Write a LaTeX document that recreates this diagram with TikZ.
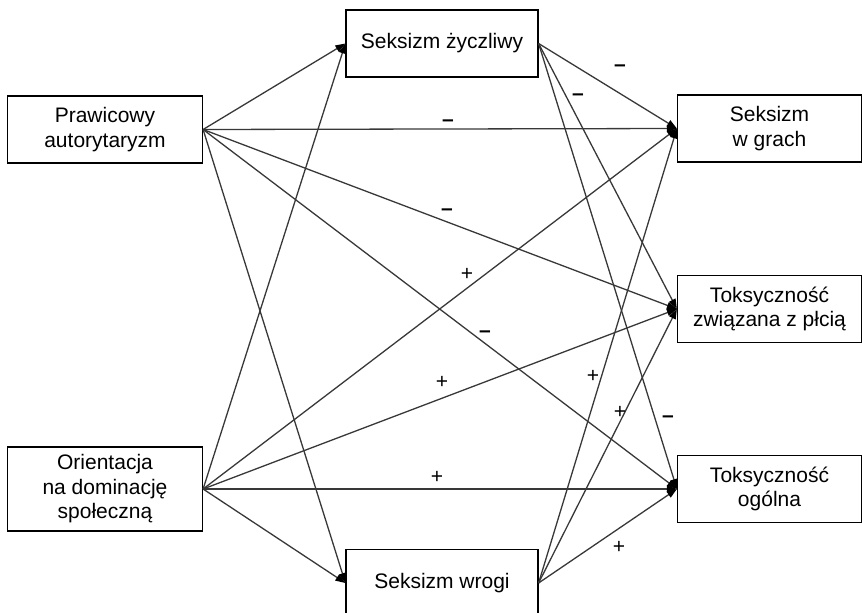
\documentclass[tikz,border=0pt]{standalone}
\usepackage{fontspec}
\setmainfont{Liberation Sans}
\usetikzlibrary{arrows.meta}
\begin{document}
\begin{tikzpicture}[x=1pt,y=-1pt,
  box/.style={draw=black,line width=1.2pt,rectangle,inner sep=0pt,align=center,
    font=\fontsize{21}{24.5}\selectfont},
  conn/.style={draw=black!78,line width=1.3pt,-{Triangle[length=10pt,width=7pt,fill=black,color=black]}},
  sign/.style={inner sep=0pt,font=\fontsize{21}{24.5}\selectfont},
  neg/.style={sign,font=\fontsize{21}{24.5}\selectfont\bfseries}]
\useasboundingbox (0,0) rectangle (862,613);
\clip (0,0) rectangle (862,613);
\node[box,minimum width=195pt,minimum height=67pt] (PA) at (105,129.5) {Prawicowy\\autorytaryzm};
\node[box,minimum width=195pt,minimum height=84pt] (OD) at (105,489) {Orientacja\\na dominację\\społeczną};
\node[box,minimum width=192pt,minimum height=67pt] (SZ) at (442,43.5) {Seksizm życzliwy};
\node[box,minimum width=192pt,minimum height=67pt] (SW) at (442,583) {Seksizm wrogi};
\node[box,minimum width=184pt,minimum height=67pt] (SG) at (769.5,128.5) {Seksizm\\w grach};
\node[box,minimum width=184pt,minimum height=67pt] (TZ) at (769.5,309) {Toksyczność\\związana z płcią};
\node[box,minimum width=184pt,minimum height=67pt] (TO) at (769.5,489) {Toksyczność\\ogólna};
\draw[conn] (PA.east) -- (SZ.west);
\draw[conn] (PA.east) -- (SG.west);
\draw[conn] (PA.east) -- (TZ.west);
\draw[conn] (PA.east) -- (TO.west);
\draw[conn] (PA.east) -- (SW.west);
\draw[conn] (OD.east) -- (SZ.west);
\draw[conn] (OD.east) -- (SG.west);
\draw[conn] (OD.east) -- (TZ.west);
\draw[conn] (OD.east) -- (TO.west);
\draw[conn] (OD.east) -- (SW.west);
\draw[conn] (SZ.east) -- (SG.west);
\draw[conn] (SZ.east) -- (TZ.west);
\draw[conn] (SZ.east) -- (TO.west);
\draw[conn] (SW.east) -- (SG.west);
\draw[conn] (SW.east) -- (TZ.west);
\draw[conn] (SW.east) -- (TO.west);
\node[neg] (l1) at (448,123) {–};
\node[neg] (l2) at (447,212) {–};
\node[neg] (l3) at (485,334) {–};
\node[sign] (l4) at (467,274) {+};
\node[sign] (l5) at (442,382) {+};
\node[sign] (l6) at (437,477) {+};
\node[neg] (l7) at (620,68) {–};
\node[neg] (l8) at (578,97) {–};
\node[neg] (l9) at (668,419) {–};
\node[sign] (l10) at (593,376) {+};
\node[sign] (l11) at (620,412) {+};
\node[sign] (l12) at (619,547) {+};
\end{tikzpicture}
\end{document}
